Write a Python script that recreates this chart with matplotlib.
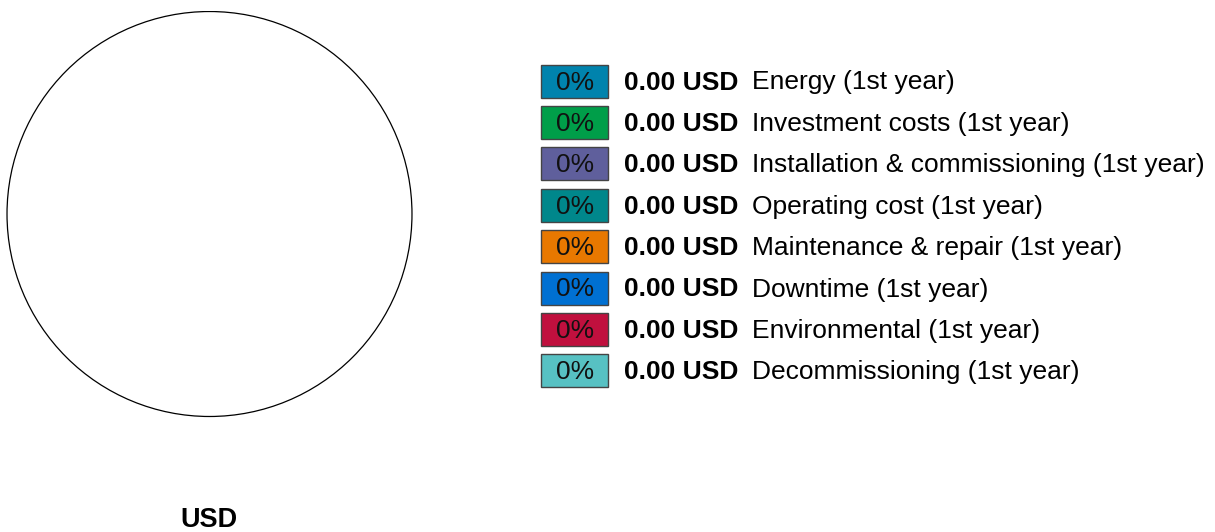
import matplotlib.pyplot as plt
from matplotlib.patches import Circle, Rectangle

plt.rcParams['font.family'] = ['Liberation Sans', 'DejaVu Sans']

categories = ['Energy (1st year)', 'Investment costs (1st year)',
              'Installation & commissioning (1st year)', 'Operating cost (1st year)',
              'Maintenance & repair (1st year)', 'Downtime (1st year)',
              'Environmental (1st year)', 'Decommissioning (1st year)']
values = [0, 0, 0, 0, 0, 0, 0, 0]
colors = ['#0083ad', '#009e49', '#5f5f9c', '#00878b',
          '#e87800', '#0070d2', '#c0103e', '#57c1c3']
currency = 'USD'

W, H = 1215, 532
fig = plt.figure(figsize=(W / 100, H / 100), dpi=100)

def fx(px):
    return px / W

def fy(py):
    return 1 - py / H

# pie area
ax = fig.add_axes([fx(6), fy(418), fx(407), 408 / H])
ax.set_aspect('equal')
ax.axis('off')
total = sum(values)
if total > 0:
    ax.pie(values, colors=colors, startangle=90, counterclock=False,
           wedgeprops=dict(edgecolor='white', linewidth=1))
else:
    ax.add_patch(Circle((0, 0), 1, facecolor='white', edgecolor='black', linewidth=0.9))
    ax.set_xlim(-1.005, 1.005)
    ax.set_ylim(-1.005, 1.005)

fig.text(fx(209), fy(527), currency, ha='center', va='baseline',
         fontsize=19.5, fontweight='bold')

# legend rows
row0 = 81
step = 41.4
for i, (cat, val, col) in enumerate(zip(categories, values, colors)):
    yc = row0 + i * step
    base = yc + 8.5
    pct = 0 if total == 0 else val / total * 100
    fig.patches.append(Rectangle((fx(541), fy(yc + 16.5)), fx(67), 33 / H,
                                 transform=fig.transFigure, facecolor=col,
                                 edgecolor='#444444', linewidth=1))
    fig.text(fx(575), fy(base), '%.0f%%' % pct, ha='center', va='baseline',
             fontsize=19, color='#111111')
    fig.text(fx(624), fy(base), '%.2f %s' % (val, currency), ha='left', va='baseline',
             fontsize=19, fontweight='bold')
    fig.text(fx(752), fy(base), cat, ha='left', va='baseline', fontsize=19)

fig.savefig('out.png', dpi=100)
